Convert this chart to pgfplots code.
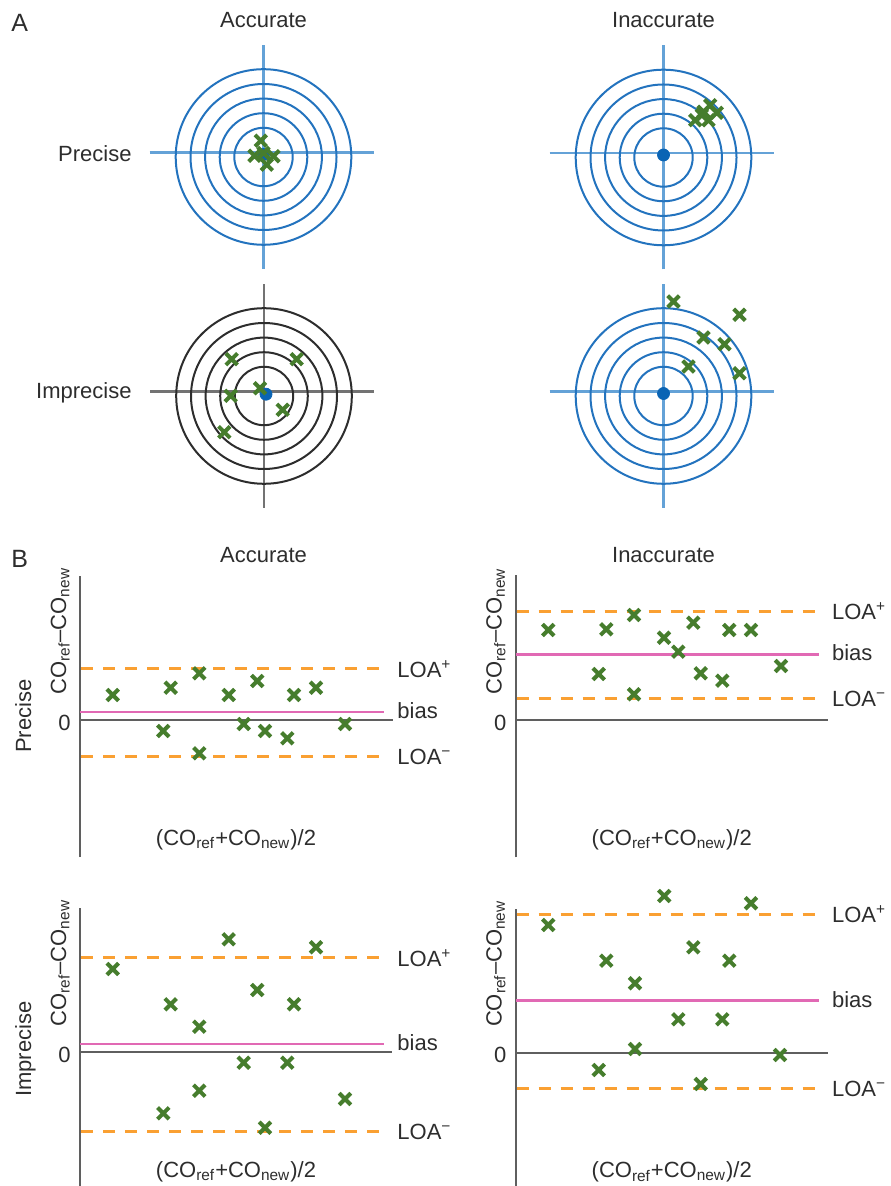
\documentclass[border=0pt]{standalone}
\usepackage{fontspec}
\setmainfont{Liberation Sans}
\usepackage{pgfplots}
\pgfplotsset{compat=1.18}

\definecolor{ringblue}{RGB}{35,115,190}
\definecolor{hairblue}{RGB}{100,162,215}
\definecolor{ringblack}{RGB}{45,45,45}
\definecolor{hairblack}{RGB}{115,115,115}
\definecolor{dotblue}{RGB}{10,100,180}
\definecolor{hitgreen}{RGB}{70,125,45}
\definecolor{axgray}{RGB}{95,95,95}
\definecolor{loaorange}{RGB}{250,160,50}
\definecolor{biaspink}{RGB}{225,105,180}
\definecolor{txt}{RGB}{45,45,45}

\tikzset{lbl/.style={font=\fontsize{11}{13}\selectfont, text=txt, inner sep=0pt}}

\pgfplotsset{
  target/.style={x=0.5pt, y=0.5pt, anchor=origin, hide axis, clip=false,
    xmin=-120, xmax=120, ymin=-120, ymax=120},
  hits/.style={only marks, mark=x, mark size=4.1pt, color=hitgreen,
    mark options={line width=2pt, draw=hitgreen}},
  centre/.style={only marks, mark=*, mark size=3pt, color=dotblue,
    mark options={draw=dotblue, fill=dotblue}},
  ba/.style={x=0.5pt, y=0.5pt, anchor=origin, clip=false, axis lines=middle,
    axis line style={draw=axgray, line width=1.1pt, -},
    xtick=\empty, ytick=\empty, xmin=0},
  loa/.style={draw=loaorange, line width=1.5pt, dash pattern=on 6pt off 5pt, mark=none},
  bias/.style={draw=biaspink, line width=1.25pt, mark=none},
}

% crosshair and five concentric rings of a target
\newcommand{\target}[2]{%
  \draw[#2, line width=1.2pt] (axis cs:0,-112) -- (axis cs:0,112)
        (axis cs:-114,4.5) -- (axis cs:110,4.5);
  \draw[#1, line width=1pt] (axis cs:0,0) circle[radius=14.6pt]
        circle[radius=21.9pt] circle[radius=29.2pt] circle[radius=36.5pt]
        circle[radius=43.9pt];
}

% labels of a Bland-Altman panel
\newcommand{\balabels}[4]{% #1 label x, #2 LOA+, #3 bias, #4 LOA-
  \node[lbl, anchor=base west, yshift=-4.2pt] at (axis cs:#1,#2) {LOA\textsuperscript{+}};
  \node[lbl, anchor=base west, yshift=-3.2pt] at (axis cs:#1,#3) {bias};
  \node[lbl, anchor=base west, yshift=-4.2pt] at (axis cs:#1,#4) {LOA\textsuperscript{−}};
  \node[lbl, anchor=base east, yshift=-5pt] at (axis cs:-9,0) {0};
  \node[lbl, rotate=90, anchor=base] at (axis cs:-14,89) {CO\textsubscript{ref}–CO\textsubscript{new}};
  \node[lbl, anchor=base] at (axis cs:156,-125) {(CO\textsubscript{ref}+CO\textsubscript{new})/2};
}

\begin{document}
\begin{tikzpicture}
\path[use as bounding box] (0,0) rectangle (445pt,-593pt);

% ---------------- A: targets ----------------
\begin{axis}[target, at={(131.75pt,-78.5pt)}]
  \target{ringblue}{hairblue}
  \addplot[centre] coordinates {(0,2.5)};
  \addplot[hits] coordinates {(-2.7,16.3) (-9,1.3) (0,4) (10,0.7) (3.3,-7.7)};
\end{axis}

\begin{axis}[target, at={(331.75pt,-78.75pt)}]
  \target{ringblue}{hairblue}
  \addplot[centre] coordinates {(0,2.5)};
  \addplot[hits] coordinates {(31.7,37.3) (40,45.7) (46.7,52.3) (53.3,44.7) (45,37.3) (38.3,42.3)};
\end{axis}

\begin{axis}[target, at={(132pt,-198pt)}]
  \target{ringblack}{hairblack}
  \addplot[centre] coordinates {(2,1.8)};
  \addplot[hits] coordinates {(-32.3,36.8) (32.7,36.8) (-33.3,0.2) (-4,7.8) (18.7,-13.8) (-39.7,-36.2)};
\end{axis}

\begin{axis}[target, at={(331.75pt,-198pt)}]
  \target{ringblue}{hairblue}
  \addplot[centre] coordinates {(0,2.5)};
  \addplot[hits] coordinates {(10,94.5) (76,81.2) (40,58.5) (61,51.8) (25,29.5) (76,22.8)};
\end{axis}

% ---------------- B: Bland-Altman plots ----------------
\begin{axis}[ba, at={(40pt,-360pt)}, xmax=313, ymin=-137, ymax=144]
  \addplot[loa] coordinates {(1,51.3) (304,51.3)};
  \addplot[loa] coordinates {(1,-36) (304,-36)};
  \addplot[bias] coordinates {(0,8) (304,8)};
  \addplot[hits] coordinates {(32.7,25) (90.7,32.3) (119.3,46.7) (148.7,25) (177.3,39)
    (214,25) (236,32.3) (83.3,-11) (119.3,-33.3) (163.7,-4) (185,-11) (207.3,-18.3) (265,-4)};
  \balabels{317}{51.3}{8}{-36}
\end{axis}

\begin{axis}[ba, at={(257.85pt,-360.15pt)}, xmax=312, ymin=-137, ymax=145]
  \addplot[loa] coordinates {(1,109.3) (303,109.3)};
  \addplot[loa] coordinates {(1,22) (303,22)};
  \addplot[bias] coordinates {(0,66) (303,66)};
  \addplot[hits] coordinates {(32.6,90.3) (90.6,91) (118.3,105.3) (148.3,82.6) (162.6,68.6)
    (177.6,97.6) (213.6,90.3) (235.3,90.3) (83,46.3) (118.3,26) (185,47) (206.6,39.6) (265.3,54.3)};
  \balabels{316}{109.3}{66}{22}
\end{axis}

\begin{axis}[ba, at={(40pt,-526pt)}, xmax=312, ymin=-134, ymax=144]
  \addplot[loa] coordinates {(1,94.3) (304,94.3)};
  \addplot[loa] coordinates {(1,-79) (304,-79)};
  \addplot[bias] coordinates {(0,8) (304,8)};
  \addplot[hits] coordinates {(32.7,83) (90.7,47.7) (119.3,25.3) (148.7,112.7) (177.3,62)
    (214,47.7) (236,104.7) (83.3,-61.3) (119.3,-38.7) (163.7,-10.7) (185,-75.7) (207.3,-10.7) (265,-47)};
  \balabels{317}{94.3}{8}{-79}
\end{axis}

\begin{axis}[ba, at={(257.85pt,-526.35pt)}, xmax=312, ymin=-134, ymax=144]
  \addplot[loa] coordinates {(1,138.7) (303,138.7)};
  \addplot[loa] coordinates {(1,-35.6) (303,-35.6)};
  \addplot[bias] coordinates {(0,52) (303,52)};
  \addplot[hits] coordinates {(32.6,127.7) (90.6,92) (119.3,69.4) (148.6,156.7) (177.6,105.4)
    (213.6,92) (235.3,149.4) (83,-17.3) (119.3,3.7) (162.6,33.4) (185,-31.3) (206.6,33.4) (264.3,-2.3)};
  \balabels{316}{138.7}{52}{-35.6}
\end{axis}

% ---------------- headings (positions in pixels) ----------------
\begin{scope}[x=0.5pt, y=-0.5pt]
  \node[lbl, font=\fontsize{12.5}{14}\selectfont, anchor=base west] at (11,32) {A};
  \node[lbl, anchor=base] at (263.5,27.3) {Accurate};
  \node[lbl, anchor=base] at (663.5,27.3) {Inaccurate};
  \node[lbl, anchor=base east] at (132,161.5) {Precise};
  \node[lbl, anchor=base east] at (132,399) {Imprecise};

  \node[lbl, font=\fontsize{12.5}{14}\selectfont, anchor=base west] at (11,567) {B};
  \node[lbl, anchor=base] at (263.5,562.7) {Accurate};
  \node[lbl, anchor=base] at (663.5,562.7) {Inaccurate};
  \node[lbl, rotate=90, anchor=base] at (31,716) {Precise};
  \node[lbl, rotate=90, anchor=base] at (31,1049) {Imprecise};
\end{scope}
\end{tikzpicture}
\end{document}
